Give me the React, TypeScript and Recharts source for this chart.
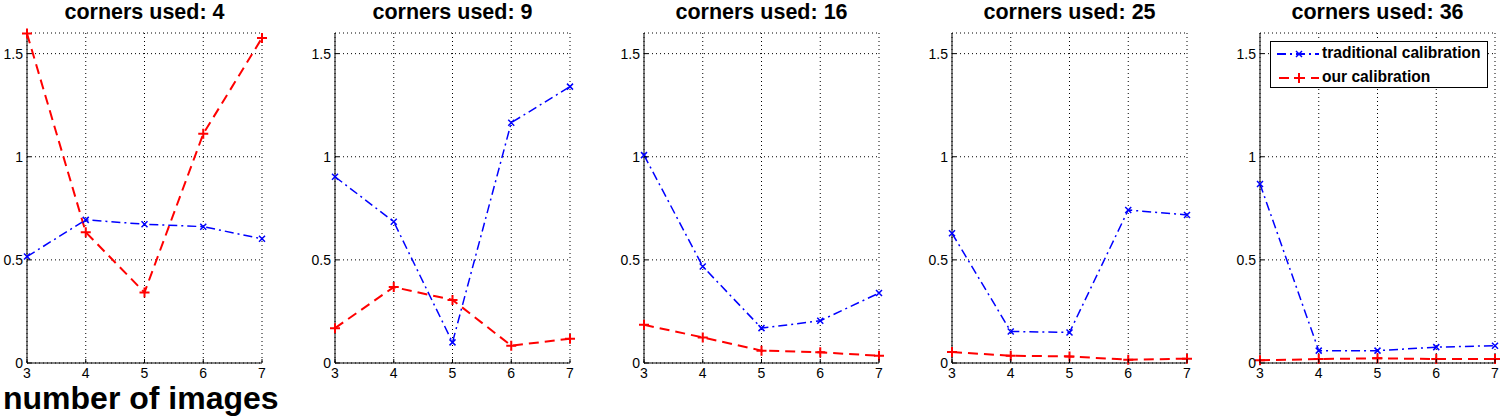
import { LineChart, Line, XAxis, YAxis, CartesianGrid } from "recharts";

// number of images on the x axis
const imageCounts = [3, 4, 5, 6, 7];
const yTicks = [0, 0.5, 1, 1.5];
const cornerCounts = [4, 9, 16, 25, 36];

// reprojection error per panel
const traditional4 = [0.516, 0.694, 0.673, 0.661, 0.602];
const ours4 = [1.597, 0.634, 0.342, 1.111, 1.576];
const traditional9 = [0.903, 0.685, 0.1, 1.165, 1.34];
const ours9 = [0.169, 0.368, 0.306, 0.084, 0.118];
const traditional16 = [1.008, 0.468, 0.169, 0.205, 0.339];
const ours16 = [0.185, 0.124, 0.06, 0.052, 0.035];
const traditional25 = [0.629, 0.153, 0.148, 0.742, 0.718];
const ours25 = [0.053, 0.035, 0.032, 0.016, 0.021];
const traditional36 = [0.868, 0.06, 0.06, 0.077, 0.084];
const ours36 = [0.013, 0.019, 0.023, 0.019, 0.019];

const traditionalSeries = [traditional4, traditional9, traditional16, traditional25, traditional36];
const oursSeries = [ours4, ours9, ours16, ours25, ours36];

const FONT = "'Liberation Sans', Arial, Helvetica, sans-serif";
const BLUE = "#0000ff";
const RED = "#ff0000";

const plotLefts = [27, 335, 644, 952, 1260];
const PLOT_W = 235;
const Y_AXIS_W = 27;
const RIGHT_PAD = 7;
const CHART_H = 393;

const XTick = ({ x, y, payload }: any) => (
  <g>
    <line x1={x} x2={x} y1={y} y2={y - 4} stroke="#000" />
    <text x={x} y={y + 15} textAnchor="middle" fontSize={14} fontFamily={FONT} fill="#000">
      {payload.value}
    </text>
  </g>
);

const YTick = ({ x, y, payload }: any) => (
  <g>
    <line x1={x} x2={x + 4} y1={y} y2={y} stroke="#000" />
    <text x={x - 4} y={y + 5} textAnchor="end" fontSize={14} fontFamily={FONT} fill="#000">
      {payload.value}
    </text>
  </g>
);

const CrossDot = ({ cx, cy, index }: any) => (
  <path
    key={`x-${index}`}
    d={`M${cx - 3},${cy - 3}L${cx + 3},${cy + 3}M${cx - 3},${cy + 3}L${cx + 3},${cy - 3}`}
    stroke={BLUE}
    strokeWidth={1.5}
    fill="none"
  />
);

const PlusDot = ({ cx, cy, index }: any) => (
  <path
    key={`p-${index}`}
    d={`M${cx - 5},${cy}L${cx + 5},${cy}M${cx},${cy - 5}L${cx},${cy + 5}`}
    stroke={RED}
    strokeWidth={2}
    fill="none"
  />
);

function Panel({ idx }: { idx: number }) {
  const data = imageCounts.map((n, i) => ({
    x: n,
    traditional: traditionalSeries[idx][i],
    ours: oursSeries[idx][i],
  }));
  const left = plotLefts[idx] - Y_AXIS_W;
  return (
    <div style={{ position: "absolute", left, top: 0 }}>
      <div
        style={{
          position: "absolute",
          left: Y_AXIS_W - 20,
          top: 1,
          width: PLOT_W + 40,
          textAlign: "center",
          fontFamily: FONT,
          fontWeight: "bold",
          fontSize: 21.5,
          lineHeight: "22px",
          whiteSpace: "nowrap",
        }}
      >
        corners used: {cornerCounts[idx]}
      </div>
      <LineChart
        width={Y_AXIS_W + PLOT_W + RIGHT_PAD}
        height={CHART_H}
        data={data}
        margin={{ top: 33, right: RIGHT_PAD, left: 0, bottom: 0 }}
      >
        <CartesianGrid stroke="#000" strokeDasharray="1 3" />
        <XAxis
          dataKey="x"
          type="number"
          domain={[3, 7]}
          ticks={imageCounts}
          height={30}
          tickSize={0}
          tickMargin={0}
          axisLine={{ stroke: "#000" }}
          tick={(p: any) => <XTick {...p} />}
          interval={0}
        />
        <YAxis
          type="number"
          domain={[0, 1.6]}
          ticks={yTicks}
          width={Y_AXIS_W}
          tickSize={0}
          tickMargin={0}
          axisLine={{ stroke: "#000" }}
          tick={(p: any) => <YTick {...p} />}
          interval={0}
        />
        <Line
          dataKey="traditional"
          type="linear"
          stroke={BLUE}
          strokeWidth={1.5}
          strokeDasharray="9 4 2 4"
          dot={(p: any) => <CrossDot {...p} />}
          isAnimationActive={false}
        />
        <Line
          dataKey="ours"
          type="linear"
          stroke={RED}
          strokeWidth={2}
          strokeDasharray="10 6"
          dot={(p: any) => <PlusDot {...p} />}
          isAnimationActive={false}
        />
      </LineChart>
    </div>
  );
}

function LegendBox() {
  return (
    <div
      style={{
        position: "absolute",
        left: 1270,
        top: 41,
        width: 216,
        height: 45,
        border: "1px solid #000",
        background: "#fff",
        fontFamily: FONT,
        fontWeight: "bold",
        fontSize: 15.6,
      }}
    >
      <svg width={50} height={45} style={{ position: "absolute", left: 0, top: 0 }}>
        <line x1={6} x2={48} y1={12} y2={12} stroke={BLUE} strokeWidth={2} strokeDasharray="9 4 2 4" />
        <path d="M25,9L31,15M25,15L31,9" stroke={BLUE} strokeWidth={1.5} />
        <line x1={8} x2={48} y1={36} y2={36} stroke={RED} strokeWidth={2} strokeDasharray="10 6" />
        <path d="M23,36L33,36M28,31L28,41" stroke={RED} strokeWidth={2} />
      </svg>
      <div style={{ position: "absolute", left: 51, top: 2, lineHeight: "18px", whiteSpace: "nowrap" }}>
        traditional calibration
      </div>
      <div style={{ position: "absolute", left: 51, top: 26, lineHeight: "18px", whiteSpace: "nowrap" }}>
        our calibration
      </div>
    </div>
  );
}

export default function App() {
  return (
    <div
      style={{
        position: "absolute",
        left: 0,
        top: 0,
        width: 1502,
        height: 419,
        background: "#fff",
        overflow: "hidden",
      }}
    >
      {cornerCounts.map((_, i) => (
        <Panel key={i} idx={i} />
      ))}
      <LegendBox />
      <div
        style={{
          position: "absolute",
          left: 3,
          top: 382,
          fontFamily: FONT,
          fontWeight: "bold",
          fontSize: 32,
          lineHeight: "32px",
          whiteSpace: "nowrap",
        }}
      >
        number of images
      </div>
    </div>
  );
}
